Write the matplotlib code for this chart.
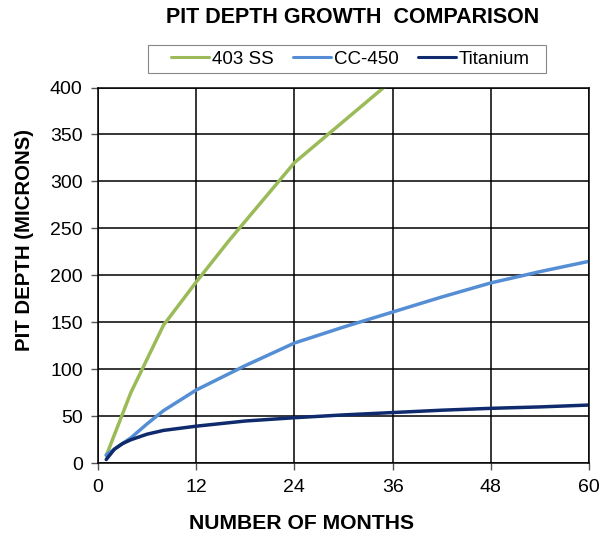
import matplotlib
matplotlib.use("Agg")
import matplotlib.pyplot as plt
from matplotlib.patches import Rectangle

plt.rcParams['font.family'] = ['Liberation Sans', 'DejaVu Sans']

months_ss = [1, 4, 8, 12, 16, 24, 36]
ss403 = [8, 75, 147, 193, 237, 320, 408]

months = [1, 2, 3, 4, 6, 8, 12, 18, 24, 30, 36, 42, 48, 54, 60]
cc450 = [9, 15, 21, 27, 42, 56, 78, 104, 128, 145, 161, 177, 192, 204, 215]
titanium = [4, 15, 21, 25, 31, 35, 39.5, 45, 48.5, 51.5, 54, 56.5, 58.5, 60, 62]

x_ticks = [0, 12, 24, 36, 48, 60]
y_ticks = [0, 50, 100, 150, 200, 250, 300, 350, 400]

fig = plt.figure(figsize=(6.10, 5.33), dpi=100)
ax = fig.add_axes([0.1607, 0.1308, 0.8049, 0.705])

ax.plot(months_ss, ss403, color='#9BBB59', lw=2.5, label='403 SS', solid_capstyle='round')
ax.plot(months, cc450, color='#558ED5', lw=2.5, label='CC-450', solid_capstyle='round')
ax.plot(months, titanium, color='#0F2B6E', lw=2.5, label='Titanium', solid_capstyle='round')

ax.set_xlim(0, 60)
ax.set_ylim(0, 400)
ax.set_xticks(x_ticks)
ax.set_yticks(y_ticks)
ax.grid(True, color='black', lw=1.1)
ax.set_axisbelow(True)
for s in ax.spines.values():
    s.set_color('black')
    s.set_linewidth(1.1)
ax.tick_params(axis='both', labelsize=14, length=5, width=1.0, color='#555555', pad=6)

ax.set_xlabel('NUMBER OF MONTHS', fontsize=15.2, fontweight='bold')
ax.xaxis.set_label_coords(0.415, -0.159)
ax.xaxis.label.set_va('center')
ax.set_ylabel('PIT DEPTH (MICRONS)', fontsize=14.7, fontweight='bold')
ax.yaxis.set_label_coords(-0.149, 0.594)
ax.yaxis.label.set_va('center')
fig.text(0.578, 0.968, 'PIT DEPTH GROWTH  COMPARISON', ha='center', va='center',
         fontsize=15.5, fontweight='bold')

# legend frame drawn separately to match the reference's asymmetric padding
fig.patches.append(Rectangle((0.2426, 0.863), 0.6525, 0.0525, transform=fig.transFigure,
                             facecolor='white', edgecolor='#888888', lw=0.8, zorder=-1))
handles, labels = ax.get_legend_handles_labels()
leg = fig.legend(handles, labels, loc='center', bbox_to_anchor=(0.5746, 0.8893),
                 bbox_transform=fig.transFigure, ncol=3, frameon=False, fontsize=13.5,
                 handlelength=2.0, handletextpad=0.16, columnspacing=1.05,
                 borderpad=0.0, borderaxespad=0.0)
leg.set_zorder(10)
for line in leg.get_lines():
    line.set_linewidth(2.2)

fig.savefig('out.png', dpi=100)
